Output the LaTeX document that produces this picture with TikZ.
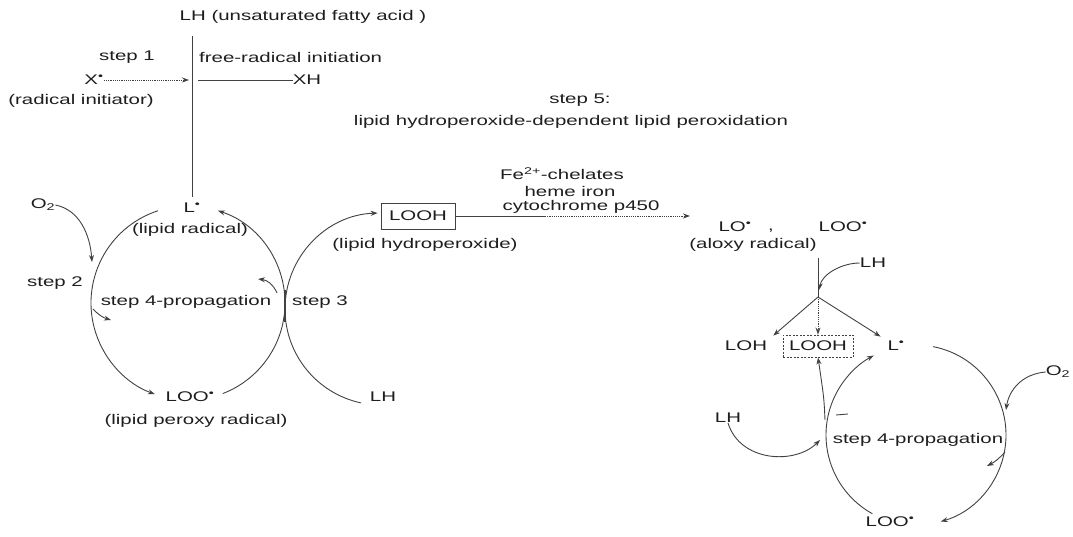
\documentclass[tikz,border=0pt]{standalone}
\usepackage{fontspec}
\setmainfont{Liberation Sans}[FakeStretch=1.46]
\usetikzlibrary{arrows.meta,calc}
\definecolor{ink}{RGB}{30,30,30}
\definecolor{wire}{RGB}{65,65,65}
\newcommand{\rad}{\textsuperscript{•}}
\begin{document}
\begin{tikzpicture}[x=1pt,y=1pt,
  lbl/.style={inner sep=0pt, text=ink, font=\fontsize{14}{16}\selectfont},
  wire/.style={draw=wire, line width=0.9pt},
  arr/.style={wire, -{Stealth[length=7pt,width=5pt]}},
  dotline/.style={dash pattern=on 1.2pt off 1pt},
  boxed/.style={lbl, draw=wire, line width=0.9pt, minimum width=74pt, minimum height=26pt}]
\useasboundingbox (0,0) rectangle (1073,-537);

% ---------- step 1: initiation ----------
\node[lbl] (lh0) at (303,-17) {LH (unsaturated fatty acid )};
\node[lbl] (s1) at (127,-57) {step 1};
\node[lbl, anchor=west] (fri) at (199,-57) {free-radical initiation};
\node[lbl] (x) at (94,-80) {X\rad};
\node[lbl] (xi) at (81,-101) {(radical initiator)};
\node[lbl] (xh) at (307,-80) {XH};
\coordinate (vtop) at (192,-36);
\coordinate (vbot) at (192,-197);
\coordinate (xmeet) at (189,-80);
\coordinate (xout) at (198,-80);
\draw[wire] (vtop) -- (vbot);
\draw[arr, dotline] (x.east) -- (xmeet);
\draw[wire] (xout) -- (xh.west);

% ---------- left propagation cycle ----------
\coordinate (c1) at (188,-303);
\coordinate (c2) at (381,-309);
\node[lbl] (lr) at (192,-208) {L\rad};
\node[lbl] (lrt) at (190,-230) {(lipid radical)};
\node[lbl] (o2a) at (43,-205) {O\textsubscript{2}};
\node[lbl] (s2) at (55,-283) {step 2};
\node[lbl] (s4a) at (186,-302) {step 4-propagation};
\node[lbl] (s3) at (320,-302) {step 3};
\node[lbl] (loo) at (190,-397) {LOO\rad};
\node[lbl] (loot) at (196,-421) {(lipid peroxy radical)};
\node[lbl] (lh1) at (383,-397) {LH};

\draw[arr] ($(c1)+(108:97)$) arc[start angle=108, end angle=250, radius=97];
\draw[arr] ($(c1)+(-1:97)$) arc[start angle=-1, end angle=72, radius=97];
\draw[wire] ($(c1)+(-69:97)$) arc[start angle=-69, end angle=-2, radius=97];
\draw[arr] ($(c2)+(180:96)$) arc[start angle=180, end angle=92, radius=96];
\draw[wire] ($(c2)+(180:96)$) arc[start angle=180, end angle=258, radius=96];

\coordinate (bar1) at (285,-290);
\coordinate (bar2) at (285,-322);
\draw[wire, line width=2.4pt] (bar1) -- (bar2);

\coordinate (o2in) at (92,-262);
\draw[arr] (o2a.east) .. controls (80,-210) and (90,-235) .. (o2in);

\coordinate (ha1) at (93,-309);
\coordinate (ha2) at (111,-320);
\draw[arr] (ha1) to[bend right=15] (ha2);
\coordinate (hb1) at (277,-293);
\coordinate (hb2) at (258,-279);
\draw[arr] (hb1) to[bend right=30] (hb2);

% ---------- step 5 ----------
\node[lbl] (s5) at (580,-100) {step 5:};
\node[lbl] (s5t) at (571,-122) {lipid hydroperoxide-dependent lipid peroxidation};
\node[boxed] (looh) at (418,-216) {LOOH};
\node[lbl] (looht) at (425,-245) {(lipid hydroperoxide)};
\node[lbl] (fe) at (562,-174) {Fe\textsuperscript{2+}-chelates};
\node[lbl] (heme) at (570,-191) {heme iron};
\node[lbl] (cyt) at (581,-207) {cytochrome p450};
\coordinate (mid) at (545,-216);
\coordinate (loend) at (690,-216);
\draw[wire] (looh.east) -- (mid);
\draw[arr, dotline] (mid) -- (loend);

% ---------- right cycle ----------
\node[lbl] (lo) at (735,-227) {LO\rad};
\node[lbl] (comma) at (771,-231) {,};
\node[lbl] (loo2) at (843,-227) {LOO\rad};
\node[lbl] (alo) at (753,-245) {(aloxy radical)};
\node[lbl] (lh2) at (873,-263) {LH};
\coordinate (vt) at (818,-258);
\coordinate (br) at (818,-297);
\draw[wire] (vt) -- (br);
\draw[arr] (lh2.west) .. controls (842,-263) and (822,-274) .. (819,-290);

\node[lbl] (loh) at (746,-346) {LOH};
\node[boxed, dash pattern=on 2pt off 1.5pt, minimum width=70pt, minimum height=22pt] (looh2) at (818,-346) {LOOH};
\node[lbl] (lr2) at (896,-346) {L\rad};
\draw[arr, shorten >=8pt] (br) -- (loh.north east);
\draw[arr, dotline] (br) -- (looh2.north);
\draw[arr, shorten >=8pt] (br) -- (lr2.north west);

\coordinate (c3) at (916,-435);
\node[lbl] (lh3) at (728,-418) {LH};
\node[lbl] (o2b) at (1058,-372) {O\textsubscript{2}};
\node[lbl] (s4b) at (918,-440) {step 4-propagation};
\node[lbl] (loo3) at (890,-522) {LOO\rad};

\draw[arr] ($(c3)+(79:90)$) arc[start angle=79, end angle=-74, radius=90];
\draw[arr] ($(c3)+(241:90)$) arc[start angle=241, end angle=118, radius=90];

\coordinate (up1) at (825,-420);
\draw[arr] (up1) .. controls (824,-398) .. (looh2.south);
\coordinate (lhin) at (820,-440);
\draw[arr] (lh3.south) .. controls (740,-462) and (795,-465) .. (lhin);
\coordinate (o2in2) at (1006,-410);
\draw[arr] (o2b.west) .. controls (1022,-374) and (1009,-390) .. (o2in2);

\coordinate (hc1) at (1005,-452);
\coordinate (hc2) at (987,-466);
\draw[arr] (hc1) to[bend left=10] (hc2);
\coordinate (tk1) at (836,-415);
\coordinate (tk2) at (848,-414);
\draw[wire] (tk1) -- (tk2);
\end{tikzpicture}
\end{document}
